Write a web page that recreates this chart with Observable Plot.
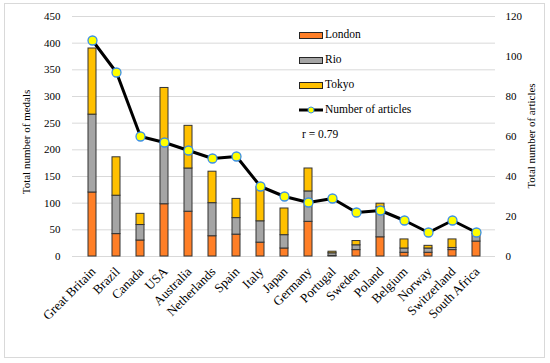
<!DOCTYPE html>
<html><head><meta charset="utf-8">
<script src="https://cdn.jsdelivr.net/npm/d3@7"></script>
<script src="https://cdn.jsdelivr.net/npm/@observablehq/plot@0.6"></script>
<style>
body{margin:0;background:#fff;}
#wrap{position:relative;width:550px;height:363px;font-family:"Liberation Serif","Times New Roman",serif;color:#000;}
#chart svg, #chart svg text{font-family:"Liberation Serif","Times New Roman",serif !important;}
#frame{position:absolute;left:4px;top:3px;width:539px;height:353px;border:1px solid #d9d9d9;pointer-events:none;}
.title{position:absolute;font-size:11px;white-space:nowrap;transform:translate(-50%,-50%) rotate(-90deg);}
.leg{position:absolute;font-size:11.5px;white-space:nowrap;line-height:1;}
.sw{position:absolute;width:22px;height:5px;border:1px solid #262626;}
</style></head><body>
<div id="wrap"><div id="chart"></div><div id="frame"></div>
<div class="title" style="left:26px;top:142px">Total number of medals</div>
<div class="title" style="left:531px;top:136px">Total number of articles</div>
<div id="legend"></div>
</div>
<script>
const countries = ["Great Britain","Brazil","Canada","USA","Australia","Netherlands","Spain","Italy","Japan","Germany","Portugal","Sweden","Poland","Belgium","Norway","Switzerland","South Africa"];
const london = [120,42,30,98,84,38,41,26,15,65,1,12,36,7,7,12,28];
const rio    = [146,72,29,116,81,62,31,40,25,57,5,9,56,8,8,4,14];
const tokyo  = [124,72,21,102,80,59,36,64,50,43,3,8,7,17,5,16,3];
const articles = [108,92,60,57,53,49,50,35,30,27,29,22,23,18,12,18,12];
const seriesNames = ["London","Rio","Tokyo"];
const seriesColors = ["#FF7F27","#A5A5A5","#FFC000"];
const leftTicks = [0,50,100,150,200,250,300,350,400,450];
const rightTicks = [0,20,40,60,80,100,120];
const corrText = "r = 0.79";
const lineLabel = "Number of articles";

const ratio = 450/120;
const seriesValues = [london, rio, tokyo];
const rows = countries.flatMap((c,i)=>seriesNames.map((s,j)=>({country:c, series:s, value:seriesValues[j][i]})));
const pts = countries.map((c,i)=>({country:c, articles:articles[i]}));
const ff = '"Liberation Serif", "Times New Roman", serif';

const chart = Plot.plot({
  width:550, height:363,
  marginLeft:72, marginRight:55, marginTop:16, marginBottom:107,
  style:{fontSize:"11px", color:"#000", background:"transparent"},
  x:{domain:countries, paddingInner:0.68, paddingOuter:0.34, label:null},
  y:{domain:[0,450], label:null},
  color:{domain:seriesNames, range:seriesColors},
  marks:[
    Plot.ruleY(leftTicks,{stroke:"#d9d9d9", strokeWidth:1}),
    Plot.axisY({ticks:leftTicks, tickSize:0, tickPadding:12, label:null, fontFamily:ff, fontSize:11}),
    Plot.axisY({anchor:"right", ticks:rightTicks.map(v=>v*ratio), tickFormat:d=>String(Math.round(d/ratio)), tickSize:0, tickPadding:10, label:null, fontFamily:ff, fontSize:11}),
    Plot.axisX({tickRotate:-45, tickSize:0, tickPadding:13, dx:1, label:null, fontFamily:ff, fontSize:13}),
    Plot.barY(rows,{x:"country", y:"value", fill:"series", stroke:"#333", strokeWidth:1}),
    Plot.line(pts,{x:"country", y:d=>d.articles*ratio, stroke:"#000", strokeWidth:3}),
    Plot.dot(pts,{x:"country", y:d=>d.articles*ratio, r:4.5, fill:"#FFFF00", stroke:"#3A8FE6", strokeWidth:1.3})
  ]
});
document.getElementById("chart").appendChild(chart);

const leg = document.getElementById("legend");
const legY = [35,60,85];
seriesNames.forEach((s,i)=>{
  const sw = document.createElement("div");
  sw.className="sw"; sw.style.left="299px"; sw.style.top=(legY[i]-3.5)+"px"; sw.style.background=seriesColors[i];
  leg.appendChild(sw);
  const t = document.createElement("div");
  t.className="leg"; t.style.left="325px"; t.style.top=(legY[i]-6)+"px"; t.textContent=s;
  leg.appendChild(t);
});
leg.insertAdjacentHTML("beforeend",
  `<svg style="position:absolute;left:297px;top:104px" width="28" height="12"><line x1="2" y1="6" x2="26" y2="6" stroke="#000" stroke-width="3"/><circle cx="14" cy="6" r="3" fill="#FFFF00" stroke="#3A8FE6" stroke-width="1"/></svg>`);
const t4 = document.createElement("div");
t4.className="leg"; t4.style.left="325px"; t4.style.top="104px"; t4.textContent=lineLabel; leg.appendChild(t4);
const t5 = document.createElement("div");
t5.className="leg"; t5.style.left="302px"; t5.style.top="129px"; t5.textContent=corrText; leg.appendChild(t5);
</script>
</body></html>
